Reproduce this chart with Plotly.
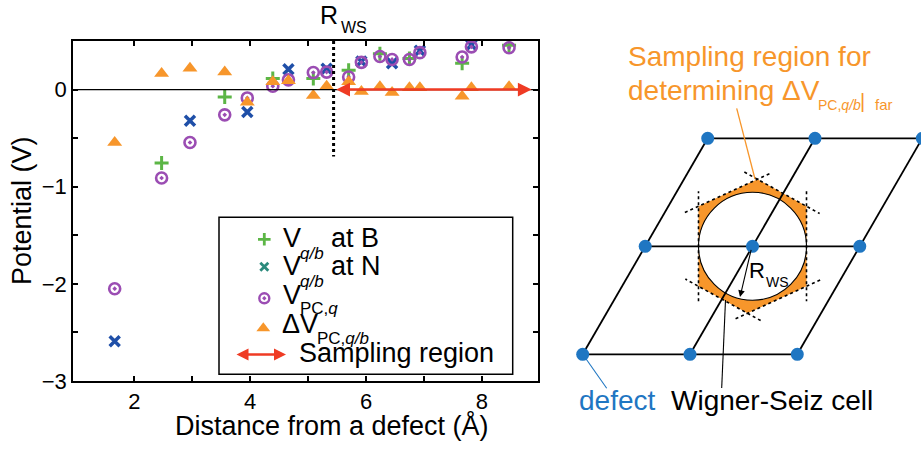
import plotly.graph_objects as go

W, H = 921, 449
FONT = "Liberation Sans, Arial, sans-serif"

# ---------------- data ----------------
x_B = [2.47, 3.56, 4.39, 5.09, 5.70, 6.24, 6.75, 7.66, 8.47]
v_B = [-0.755, -0.076, 0.113, 0.113, 0.20, 0.37, 0.32, 0.27, 0.455]

x_N = [1.66, 2.96, 3.95, 4.66, 5.32, 5.92, 6.45, 6.93, 7.82]
v_N = [-2.59, -0.32, -0.23, 0.21, 0.215, 0.29, 0.27, 0.40, 0.46]

x_all = [1.66, 2.47, 2.96, 3.56, 3.95, 4.39, 4.66, 5.09, 5.32, 5.70, 5.92,
         6.24, 6.45, 6.75, 6.93, 7.66, 7.82, 8.47]
v_pc = [-2.05, -0.91, -0.545, -0.26, -0.086, 0.034, 0.10, 0.175, 0.18, 0.13,
        0.28, 0.34, 0.31, 0.31, 0.38, 0.335, 0.44, 0.43]
dv_pc = [-0.545, 0.165, 0.22, 0.18, -0.13, 0.08, 0.09, -0.06, 0.035, 0.08,
         -0.02, 0.03, -0.03, 0.02, 0.02, -0.07, 0.02, 0.03]

R_WS = 5.44
SAMPLE_END = 8.86
RWS_LINE_BOTTOM = -0.69

x_ticks = [2, 3, 4, 5, 6, 7, 8]
x_ticktext = ["2", "", "4", "", "6", "", "8"]
y_ticks = [-3, -2.5, -2, -1.5, -1, -0.5, 0]
y_ticktext = ["\u22123", "", "\u22122", "", "\u22121", "", "0"]

# colours
GREEN = "#5cb646"
BLUE = "#1f4fa8"
TEAL = "#2b8a7c"
PURPLE = "#9b4db3"
ORANGE = "#f7962b"
RED = "#ef3b24"
DOTBLUE = "#1f76c2"

# ---------------- layout helpers (pixel -> paper) ----------------
def PX(x):
    return x / W

def PY(y):
    return 1 - y / H

PLOT_L, PLOT_R, PLOT_T, PLOT_B = 73, 538, 41, 381

fig = go.Figure()

# main data
fig.add_trace(go.Scatter(x=x_B, y=v_B, mode="markers", showlegend=False,
                         marker=dict(symbol="cross-thin", size=10, line=dict(color=GREEN, width=3))))
fig.add_trace(go.Scatter(x=x_N, y=v_N, mode="markers", showlegend=False,
                         marker=dict(symbol="x-thin", size=10, line=dict(color=BLUE, width=3.5))))
fig.add_trace(go.Scatter(x=x_all, y=v_pc, mode="markers", showlegend=False,
                         marker=dict(symbol="circle-open-dot", size=11, color=PURPLE,
                                     line=dict(color=PURPLE, width=2.6))))
fig.add_trace(go.Scatter(x=x_all, y=dv_pc, mode="markers", showlegend=False,
                         marker=dict(symbol="triangle-up", size=13, color=ORANGE,
                                     line=dict(width=0))))

# legend markers (on pixel axes x2/y2)
LEG_MX = 264.3
leg_y = [239.3, 266.7, 298.3, 328.3]
fig.add_trace(go.Scatter(x=[LEG_MX], y=[leg_y[0]], xaxis="x2", yaxis="y2", mode="markers", showlegend=False,
                         marker=dict(symbol="cross-thin", size=9, line=dict(color=GREEN, width=2.8))))
fig.add_trace(go.Scatter(x=[LEG_MX], y=[leg_y[1]], xaxis="x2", yaxis="y2", mode="markers", showlegend=False,
                         marker=dict(symbol="x-thin", size=8, line=dict(color=TEAL, width=2.8))))
fig.add_trace(go.Scatter(x=[LEG_MX], y=[leg_y[2]], xaxis="x2", yaxis="y2", mode="markers", showlegend=False,
                         marker=dict(symbol="circle-open-dot", size=10, color=PURPLE,
                                     line=dict(color=PURPLE, width=2.4))))
fig.add_trace(go.Scatter(x=[LEG_MX - 1], y=[leg_y[3]], xaxis="x2", yaxis="y2", mode="markers", showlegend=False,
                         marker=dict(symbol="triangle-up", size=12, color=ORANGE, line=dict(width=0))))

shapes = []
annotations = []

# zero line and R_WS dotted line
shapes.append(dict(type="line", xref="x domain", yref="y", x0=0, x1=1, y0=0, y1=0,
                   line=dict(color="black", width=1.2)))
shapes.append(dict(type="line", xref="x", yref="y", x0=R_WS, x1=R_WS, y0=0.5, y1=RWS_LINE_BOTTOM,
                   line=dict(color="black", width=3, dash="dot")))

# sampling-region arrow in plot
annotations.append(dict(xref="x", yref="y", axref="x", ayref="y", x=SAMPLE_END, y=0, ax=R_WS + 0.02, ay=0,
                        text="", showarrow=True, arrowside="end+start", arrowhead=2, arrowsize=1.1,
                        arrowwidth=2.5, arrowcolor=RED, standoff=0, startstandoff=0))

# legend box
shapes.append(dict(type="rect", xref="x2", yref="y2", x0=219, x1=512.7, y0=217.3, y1=374.3,
                   line=dict(color="black", width=1.5), layer="above"))

def txt(x, y, s, size, color="black", xanchor="left", yanchor="middle", angle=0):
    annotations.append(dict(xref="paper", yref="paper", x=PX(x), y=PY(y), text=s, showarrow=False,
                            xanchor=xanchor, yanchor=yanchor, textangle=angle, borderpad=0,
                            font=dict(family=FONT, size=size, color=color)))

LF = 27
SF = 17
# legend texts
txt(281.7, 238, "V", LF)
txt(330, 238, "at B", LF)
txt(299, 253, "<i>q/b</i>", SF)
txt(281.7, 266, "V", LF)
txt(330, 266, "at N", LF)
txt(299, 281, "<i>q/b</i>", SF)
txt(281.7, 295, "V", LF)
txt(299, 308, "PC,<i>q</i>", SF)
txt(280.5, 323.5, "\u0394V", LF)
txt(316, 338, "PC,<i>q/b</i>", SF)
txt(298.3, 353, "Sampling region", LF)
annotations.append(dict(xref="x2", yref="y2", axref="x2", ayref="y2", x=286, y=354.5, ax=235, ay=354.5,
                        text="", showarrow=True, arrowside="end+start", arrowhead=2, arrowsize=1.0,
                        arrowwidth=2.4, arrowcolor=RED, standoff=0, startstandoff=0))

# axis titles / R_WS label
txt(332, 425, "Distance from a defect (\u00c5)", 27, xanchor="center")
txt(22, 211, "Potential (V)", 27, xanchor="center", angle=-90)
txt(329, 15, "R", 25, xanchor="center")
txt(340, 27.5, "WS", 16)

# ---------------- right-hand diagram (pixel coordinates) ----------------
ORIGIN = (582.7, 354.3)
A1 = (107.3, 0.0)
A2 = (62.5, -108.0)
N_CELL = 2
CENTER = (ORIGIN[0] + A1[0] + A2[0], ORIGIN[1] + A1[1] + A2[1])
R_CIRCLE = 54
HEX_REL = [(5, -67), (54, -40), (54, 40), (-5, 67), (-54, 40), (-54, -40)]
HEX = [(CENTER[0] + dx, CENTER[1] + dy) for dx, dy in HEX_REL]

def lat(i, j):
    return (ORIGIN[0] + i * A1[0] + j * A2[0], ORIGIN[1] + i * A1[1] + j * A2[1])

def seg(p, q, color="black", width=1.8, dash=None):
    d = dict(type="line", xref="x2", yref="y2", x0=p[0], y0=p[1], x1=q[0], y1=q[1],
             line=dict(color=color, width=width), layer="above")
    if dash:
        d["line"]["dash"] = dash
    shapes.append(d)

# orange WS cell and white circle
path = "M " + " L ".join(f"{x:.1f},{y:.1f}" for x, y in HEX) + " Z"
shapes.append(dict(type="path", xref="x2", yref="y2", path=path, fillcolor=ORANGE,
                   line=dict(width=0), layer="above"))
shapes.append(dict(type="circle", xref="x2", yref="y2", x0=CENTER[0] - R_CIRCLE, x1=CENTER[0] + R_CIRCLE,
                   y0=CENTER[1] - R_CIRCLE, y1=CENTER[1] + R_CIRCLE, fillcolor="white",
                   line=dict(color="black", width=1.1), layer="above"))

# dashed extended WS edges
EXT = 15
for k in range(6):
    p, q = HEX[k], HEX[(k + 1) % 6]
    dx, dy = q[0] - p[0], q[1] - p[1]
    L = (dx * dx + dy * dy) ** 0.5
    ux, uy = dx / L, dy / L
    seg((p[0] - ux * EXT, p[1] - uy * EXT), (q[0] + ux * EXT, q[1] + uy * EXT),
        width=1.6, dash="dot")

# lattice lines
for j in range(N_CELL + 1):
    seg(lat(0, j), lat(N_CELL, j))
for i in range(N_CELL + 1):
    seg(lat(i, 0), lat(i, N_CELL))

# pointer lines
seg((736.7, 108.3), (755, 179), color=ORANGE, width=1.3)
seg((721.7, 388), (725.5, 300), color="black", width=1.1)
seg((606.7, 388.3), (584, 356), color=DOTBLUE, width=1.1)

# lattice dots
for i in range(N_CELL + 1):
    for j in range(N_CELL + 1):
        cx, cy = lat(i, j)
        r = 6.5
        shapes.append(dict(type="circle", xref="x2", yref="y2", x0=cx - r, x1=cx + r, y0=cy - r, y1=cy + r,
                           fillcolor=DOTBLUE, line=dict(width=0), layer="above"))

# R_WS arrow in diagram
annotations.append(dict(xref="x2", yref="y2", axref="x2", ayref="y2", x=740, y=297, ax=CENTER[0] - 1, ay=CENTER[1] + 2,
                        text="", showarrow=True, arrowhead=2, arrowsize=1.2, arrowwidth=1.1,
                        arrowcolor="black", standoff=0))

# diagram texts
txt(626.7, 56, "Sampling region for", 28, color=ORANGE)
txt(626.7, 91, "determining \u0394V", 28, color=ORANGE)
txt(816.5, 105, "PC,<i>q/b</i>", 14, color=ORANGE)
txt(859, 101, "|", 20, color=ORANGE)
txt(874, 104.5, "far", 15, color=ORANGE)
txt(747.5, 270, "R", 22)
txt(765, 282, "WS", 14)
txt(578, 400, "defect", 28, color=DOTBLUE)
txt(670, 400, "Wigner-Seiz cell", 28)

axis_common = dict(showline=True, linecolor="black", linewidth=1.5, mirror="ticks", ticks="inside",
                   ticklen=5, tickwidth=1.5, tickcolor="black", showgrid=False, zeroline=False,
                   automargin=False,
                   tickfont=dict(family=FONT, size=22, color="black"), fixedrange=True)

fig.update_layout(
    width=W, height=H,
    margin=dict(l=0, r=0, t=0, b=0, pad=0, autoexpand=False),
    paper_bgcolor="white", plot_bgcolor="rgba(0,0,0,0)",
    showlegend=False,
    xaxis=dict(domain=[PX(PLOT_L), PX(PLOT_R)], range=[0.94, 8.97], tickmode="array",
               tickvals=x_ticks, ticktext=x_ticktext, anchor="y", **axis_common),
    yaxis=dict(domain=[PY(PLOT_B), PY(PLOT_T)], range=[-3, 0.5], tickmode="array",
               tickvals=y_ticks, ticktext=y_ticktext, anchor="x", **axis_common),
    xaxis2=dict(domain=[0, 1], range=[0, W], visible=False, anchor="y2", fixedrange=True, automargin=False),
    yaxis2=dict(domain=[0, 1], range=[H, 0], visible=False, anchor="x2", fixedrange=True, automargin=False),
    shapes=shapes,
    annotations=annotations,
)

fig.write_html("out.html")
